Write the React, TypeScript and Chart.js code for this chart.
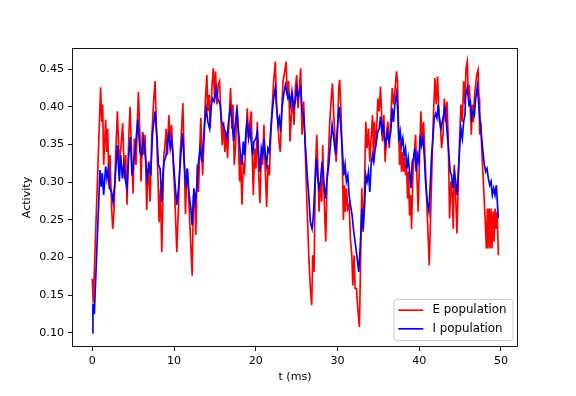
import React, { useEffect, useRef } from "react";
import { Chart, registerables } from "chart.js";

Chart.register(...registerables);

const eTime = [0, 0.12, 1.02, 1.15, 1.27, 1.39, 1.64, 1.76, 1.88, 2.05, 2.17, 2.37, 2.5, 2.66, 2.86, 3.07, 3.31, 3.52, 3.72, 3.93, 4.09, 4.25, 4.46, 4.62, 4.82, 4.99, 5.15, 5.35, 5.64, 5.84, 5.97, 6.13, 6.3, 6.46, 6.66, 6.87, 7.07, 7.27, 7.48, 7.68, 7.89, 8.05, 8.17, 8.34, 8.5, 8.75, 8.87, 9.04, 9.2, 9.36, 9.53, 9.69, 9.85, 10.02, 10.18, 10.34, 10.55, 10.75, 10.91, 11.08, 11.24, 11.4, 11.57, 11.73, 11.98, 12.22, 12.38, 12.55, 12.67, 12.83, 13.0, 13.12, 13.28, 13.49, 13.65, 13.81, 14.02, 14.14, 14.3, 14.43, 14.63, 14.8, 14.96, 15.08, 15.24, 15.41, 15.57, 15.73, 15.9, 16.06, 16.22, 16.39, 16.55, 16.72, 16.92, 17.08, 17.21, 17.37, 17.53, 17.7, 17.86, 18.02, 18.14, 18.31, 18.47, 18.63, 18.8, 18.96, 19.12, 19.29, 19.45, 19.57, 19.7, 19.86, 20.02, 20.19, 20.35, 20.51, 20.68, 20.84, 21.0, 21.17, 21.33, 21.49, 21.66, 21.82, 21.98, 22.19, 22.39, 22.56, 22.72, 22.84, 23.0, 23.17, 23.33, 23.54, 23.7, 23.86, 24.03, 24.19, 24.35, 24.52, 24.68, 24.84, 25.01, 25.17, 25.33, 25.5, 25.66, 25.86, 26.07, 26.27, 26.48, 26.68, 26.84, 26.97, 27.13, 27.29, 27.46, 27.58, 27.74, 27.91, 28.07, 28.19, 28.35, 28.56, 28.72, 28.89, 29.05, 29.21, 29.38, 29.54, 29.7, 29.83, 29.99, 30.15, 30.27, 30.44, 30.6, 30.72, 30.85, 30.97, 31.09, 31.26, 31.42, 31.58, 31.75, 31.87, 32.03, 32.15, 32.32, 32.48, 32.68, 32.85, 32.97, 33.13, 33.3, 33.46, 33.62, 33.79, 33.95, 34.11, 34.28, 34.4, 34.52, 34.65, 34.77, 34.93, 35.1, 35.26, 35.38, 35.5, 35.67, 35.83, 35.99, 36.16, 36.32, 36.48, 36.69, 36.85, 37.01, 37.22, 37.34, 37.46, 37.59, 37.71, 37.83, 37.95, 38.08, 38.2, 38.32, 38.44, 38.57, 38.69, 38.81, 38.93, 39.06, 39.22, 39.38, 39.55, 39.71, 39.87, 40.04, 40.2, 40.36, 40.53, 40.69, 40.85, 41.02, 41.22, 41.43, 41.59, 41.75, 41.92, 42.08, 42.24, 42.41, 42.57, 42.73, 42.9, 43.06, 43.22, 43.39, 43.55, 43.71, 43.88, 44.04, 44.16, 44.29, 44.45, 44.61, 44.78, 44.94, 45.1, 45.27, 45.43, 45.59, 45.72, 45.88, 46.0, 46.12, 46.25, 46.37, 46.49, 46.62, 46.74, 46.9, 47.02, 47.19, 47.31, 47.39, 47.51, 47.64, 47.76, 47.88, 48.0, 48.13, 48.21, 48.33, 48.41, 48.54, 48.66, 48.78, 48.9, 49.03, 49.15, 49.27, 49.39, 49.52, 49.68];

const eActivity = [0.172, 0.14, 0.426, 0.38, 0.403, 0.323, 0.383, 0.34, 0.371, 0.292, 0.336, 0.265, 0.238, 0.261, 0.336, 0.394, 0.323, 0.349, 0.378, 0.305, 0.336, 0.27, 0.358, 0.4, 0.336, 0.285, 0.358, 0.323, 0.42, 0.358, 0.301, 0.367, 0.336, 0.363, 0.263, 0.327, 0.274, 0.358, 0.403, 0.434, 0.358, 0.301, 0.247, 0.292, 0.207, 0.336, 0.345, 0.371, 0.336, 0.389, 0.358, 0.376, 0.336, 0.301, 0.256, 0.207, 0.27, 0.336, 0.367, 0.405, 0.336, 0.258, 0.318, 0.296, 0.234, 0.176, 0.283, 0.27, 0.23, 0.323, 0.287, 0.336, 0.385, 0.309, 0.349, 0.403, 0.442, 0.394, 0.416, 0.371, 0.425, 0.451, 0.411, 0.447, 0.403, 0.429, 0.434, 0.389, 0.349, 0.38, 0.34, 0.367, 0.332, 0.38, 0.425, 0.371, 0.403, 0.323, 0.349, 0.403, 0.363, 0.301, 0.336, 0.27, 0.323, 0.314, 0.358, 0.398, 0.358, 0.38, 0.394, 0.336, 0.283, 0.345, 0.318, 0.38, 0.314, 0.272, 0.336, 0.323, 0.376, 0.314, 0.267, 0.323, 0.309, 0.358, 0.394, 0.434, 0.46, 0.398, 0.38, 0.354, 0.34, 0.394, 0.434, 0.447, 0.46, 0.416, 0.434, 0.354, 0.389, 0.411, 0.376, 0.425, 0.442, 0.398, 0.425, 0.451, 0.363, 0.407, 0.336, 0.27, 0.203, 0.159, 0.137, 0.203, 0.181, 0.314, 0.363, 0.327, 0.261, 0.301, 0.274, 0.349, 0.283, 0.221, 0.301, 0.336, 0.38, 0.407, 0.431, 0.389, 0.358, 0.327, 0.363, 0.425, 0.436, 0.389, 0.323, 0.25, 0.296, 0.261, 0.292, 0.265, 0.27, 0.225, 0.203, 0.163, 0.203, 0.159, 0.159, 0.132, 0.108, 0.212, 0.292, 0.234, 0.292, 0.38, 0.345, 0.371, 0.327, 0.358, 0.389, 0.327, 0.38, 0.345, 0.363, 0.411, 0.394, 0.427, 0.394, 0.354, 0.389, 0.327, 0.363, 0.38, 0.345, 0.376, 0.425, 0.403, 0.42, 0.447, 0.434, 0.38, 0.323, 0.354, 0.314, 0.34, 0.314, 0.332, 0.309, 0.323, 0.278, 0.314, 0.256, 0.283, 0.238, 0.309, 0.336, 0.363, 0.309, 0.261, 0.336, 0.394, 0.354, 0.38, 0.336, 0.292, 0.247, 0.19, 0.27, 0.336, 0.394, 0.438, 0.403, 0.44, 0.389, 0.38, 0.345, 0.363, 0.411, 0.38, 0.407, 0.358, 0.252, 0.301, 0.283, 0.238, 0.323, 0.283, 0.232, 0.301, 0.358, 0.403, 0.38, 0.434, 0.403, 0.451, 0.46, 0.416, 0.429, 0.398, 0.363, 0.403, 0.38, 0.411, 0.429, 0.442, 0.449, 0.411, 0.363, 0.38, 0.345, 0.318, 0.292, 0.265, 0.234, 0.212, 0.265, 0.212, 0.265, 0.212, 0.265, 0.212, 0.261, 0.221, 0.265, 0.238, 0.261, 0.203];

const iTime = [0, 0.08, 0.25, 0.94, 1.11, 1.23, 1.39, 1.64, 1.8, 1.96, 2.13, 2.37, 2.54, 2.78, 3.07, 3.31, 3.48, 3.68, 3.84, 4.05, 4.25, 4.46, 4.66, 4.86, 5.07, 5.23, 5.56, 5.84, 6.05, 6.25, 6.46, 6.7, 6.95, 7.15, 7.36, 7.68, 7.93, 8.09, 8.3, 8.5, 8.66, 8.79, 9.04, 9.2, 9.36, 9.53, 9.69, 9.85, 10.1, 10.34, 10.55, 10.83, 11.04, 11.24, 11.45, 11.65, 11.81, 12.06, 12.22, 12.43, 12.59, 12.79, 12.96, 13.2, 13.41, 13.61, 13.77, 13.94, 14.14, 14.35, 14.51, 14.71, 14.92, 15.16, 15.33, 15.49, 15.65, 15.82, 16.06, 16.27, 16.47, 16.67, 16.88, 17.08, 17.29, 17.49, 17.7, 17.9, 18.1, 18.31, 18.47, 18.63, 18.8, 18.96, 19.12, 19.29, 19.45, 19.61, 19.78, 20.02, 20.19, 20.35, 20.51, 20.68, 20.84, 21.0, 21.17, 21.33, 21.49, 21.66, 21.82, 21.98, 22.19, 22.39, 22.56, 22.72, 22.88, 23.05, 23.21, 23.41, 23.62, 23.78, 23.94, 24.11, 24.27, 24.43, 24.64, 24.84, 25.01, 25.17, 25.33, 25.5, 25.66, 25.86, 26.07, 26.27, 26.48, 26.68, 26.89, 27.05, 27.21, 27.42, 27.58, 27.74, 27.91, 28.11, 28.31, 28.52, 28.72, 28.93, 29.13, 29.34, 29.54, 29.78, 29.95, 30.19, 30.36, 30.56, 30.77, 30.93, 31.09, 31.26, 31.42, 31.58, 31.79, 31.95, 32.15, 32.36, 32.6, 32.81, 32.97, 33.13, 33.3, 33.46, 33.62, 33.79, 33.95, 34.11, 34.28, 34.44, 34.61, 34.77, 34.93, 35.1, 35.26, 35.42, 35.59, 35.75, 35.91, 36.08, 36.28, 36.52, 36.69, 36.85, 37.01, 37.22, 37.38, 37.5, 37.67, 37.83, 37.99, 38.16, 38.32, 38.48, 38.65, 38.81, 38.97, 39.14, 39.3, 39.46, 39.63, 39.79, 39.95, 40.12, 40.28, 40.45, 40.61, 40.77, 40.98, 41.18, 41.34, 41.51, 41.67, 41.83, 42.0, 42.16, 42.32, 42.49, 42.65, 42.81, 42.98, 43.14, 43.3, 43.47, 43.63, 43.79, 43.96, 44.12, 44.29, 44.45, 44.61, 44.78, 44.94, 45.1, 45.27, 45.43, 45.59, 45.68, 45.88, 46.08, 46.25, 46.41, 46.57, 46.74, 46.9, 47.11, 47.31, 47.47, 47.64, 47.8, 47.96, 48.13, 48.29, 48.45, 48.62, 48.78, 48.94, 49.11, 49.27, 49.43, 49.6, 49.68];

const iActivity = [0.1, 0.139, 0.125, 0.316, 0.294, 0.312, 0.283, 0.321, 0.305, 0.318, 0.292, 0.287, 0.274, 0.301, 0.349, 0.301, 0.336, 0.305, 0.323, 0.303, 0.292, 0.336, 0.36, 0.309, 0.327, 0.34, 0.383, 0.34, 0.336, 0.358, 0.34, 0.305, 0.323, 0.309, 0.363, 0.394, 0.358, 0.323, 0.318, 0.274, 0.314, 0.327, 0.336, 0.354, 0.363, 0.345, 0.358, 0.34, 0.301, 0.27, 0.292, 0.336, 0.365, 0.327, 0.292, 0.318, 0.287, 0.265, 0.243, 0.292, 0.274, 0.292, 0.323, 0.345, 0.327, 0.358, 0.38, 0.398, 0.38, 0.371, 0.398, 0.411, 0.407, 0.425, 0.411, 0.407, 0.403, 0.38, 0.374, 0.367, 0.358, 0.38, 0.398, 0.385, 0.354, 0.376, 0.398, 0.367, 0.34, 0.323, 0.354, 0.336, 0.367, 0.38, 0.358, 0.371, 0.354, 0.336, 0.354, 0.358, 0.367, 0.336, 0.314, 0.345, 0.336, 0.358, 0.336, 0.323, 0.345, 0.34, 0.367, 0.389, 0.411, 0.425, 0.398, 0.376, 0.385, 0.367, 0.398, 0.416, 0.429, 0.42, 0.411, 0.416, 0.403, 0.42, 0.398, 0.407, 0.425, 0.411, 0.42, 0.425, 0.394, 0.389, 0.349, 0.314, 0.283, 0.247, 0.238, 0.256, 0.292, 0.332, 0.305, 0.292, 0.301, 0.327, 0.301, 0.278, 0.305, 0.323, 0.349, 0.376, 0.358, 0.336, 0.367, 0.4, 0.38, 0.349, 0.309, 0.323, 0.301, 0.309, 0.283, 0.27, 0.256, 0.238, 0.221, 0.203, 0.181, 0.221, 0.265, 0.238, 0.265, 0.309, 0.301, 0.314, 0.287, 0.323, 0.336, 0.327, 0.345, 0.354, 0.367, 0.371, 0.387, 0.367, 0.376, 0.358, 0.349, 0.367, 0.354, 0.367, 0.398, 0.38, 0.403, 0.418, 0.394, 0.354, 0.367, 0.349, 0.358, 0.336, 0.345, 0.318, 0.332, 0.314, 0.292, 0.327, 0.332, 0.345, 0.314, 0.336, 0.327, 0.363, 0.349, 0.358, 0.336, 0.301, 0.274, 0.261, 0.296, 0.336, 0.358, 0.385, 0.391, 0.385, 0.403, 0.38, 0.371, 0.38, 0.389, 0.398, 0.38, 0.358, 0.336, 0.314, 0.309, 0.292, 0.314, 0.301, 0.283, 0.314, 0.345, 0.371, 0.358, 0.38, 0.389, 0.416, 0.425, 0.403, 0.407, 0.385, 0.394, 0.389, 0.411, 0.427, 0.398, 0.38, 0.358, 0.34, 0.323, 0.314, 0.318, 0.305, 0.296, 0.301, 0.283, 0.292, 0.283, 0.296, 0.265, 0.252];

const xTicks = [0, 10, 20, 30, 40, 50];
const yTicks = [0.1, 0.15, 0.2, 0.25, 0.3, 0.35, 0.4, 0.45];
const seriesLabels = ["E population", "I population"];
const seriesColors = ["#ff0000", "#0000ff"];
const xTitle = "t (ms)";
const yTitle = "Activity";

const FONT_FAMILY = "'DejaVu Sans', sans-serif";
const FONT_SIZE = 11.1;
const LEGEND_FONT_SIZE = 11.8;

export default function App() {
  const canvasRef = useRef<HTMLCanvasElement | null>(null);

  useEffect(() => {
    const canvas = canvasRef.current;
    if (!canvas) return;

    const framePlugin = {
      id: "frame",
      afterDraw(chart: any) {
        const { ctx, chartArea: a } = chart;
        ctx.save();
        ctx.strokeStyle = "#000";
        ctx.lineWidth = 0.9;
        ctx.strokeRect(a.left + 0.5, a.top + 0.5, a.right - a.left - 1, a.bottom - a.top - 1);

        // legend (matplotlib style, lower right)
        const w = 119;
        const h = 41;
        const right = a.right - 5;
        const bottom = a.bottom - 6.5;
        const left = right - w;
        const top = bottom - h;
        const r = 3;
        ctx.beginPath();
        ctx.moveTo(left + r, top);
        ctx.lineTo(right - r, top);
        ctx.arcTo(right, top, right, top + r, r);
        ctx.lineTo(right, bottom - r);
        ctx.arcTo(right, bottom, right - r, bottom, r);
        ctx.lineTo(left + r, bottom);
        ctx.arcTo(left, bottom, left, bottom - r, r);
        ctx.lineTo(left, top + r);
        ctx.arcTo(left, top, left + r, top, r);
        ctx.closePath();
        ctx.fillStyle = "rgba(255,255,255,0.8)";
        ctx.fill();
        ctx.strokeStyle = "#cccccc";
        ctx.lineWidth = 1;
        ctx.stroke();

        const rows = [top + 10.7, top + 29.3];
        ctx.font = `${LEGEND_FONT_SIZE}px ${FONT_FAMILY}`;
        ctx.textBaseline = "middle";
        ctx.textAlign = "left";
        seriesLabels.forEach((lab, i) => {
          ctx.strokeStyle = seriesColors[i];
          ctx.lineWidth = 1.67;
          ctx.beginPath();
          ctx.moveTo(left + 4.3, rows[i]);
          ctx.lineTo(left + 29.3, rows[i]);
          ctx.stroke();
          ctx.fillStyle = "#000";
          ctx.fillText(lab, left + 38.5, rows[i]);
        });
        ctx.restore();
      },
    };

    const eData = eTime.map((t, i) => ({ x: t, y: eActivity[i] }));
    const iData = iTime.map((t, i) => ({ x: t, y: iActivity[i] }));

    const chart = new Chart(canvas, {
      type: "line",
      data: {
        datasets: [
          {
            label: seriesLabels[0],
            data: eData,
            borderColor: seriesColors[0],
            backgroundColor: seriesColors[0],
            borderWidth: 1.67,
            pointRadius: 0,
            tension: 0,
            fill: false,
            order: 1,
          },
          {
            label: seriesLabels[1],
            data: iData,
            borderColor: seriesColors[1],
            backgroundColor: seriesColors[1],
            borderWidth: 1.67,
            pointRadius: 0,
            tension: 0,
            fill: false,
            order: 0,
          },
        ],
      },
      options: {
        responsive: false,
        animation: false,
        events: [],
        layout: { padding: { left: 0, top: 48, right: 58, bottom: 0 } },
        plugins: {
          legend: { display: false },
          tooltip: { enabled: false },
        },
        scales: {
          x: {
            type: "linear",
            min: -2.48,
            max: 52.08,
            afterFit: (s: any) => {
              s.height = 49;
            },
            afterBuildTicks: (s: any) => {
              s.ticks = xTicks.map((v) => ({ value: v }));
            },
            grid: {
              drawOnChartArea: false,
              drawTicks: true,
              tickLength: 4,
              color: "#000",
              lineWidth: 0.9,
            },
            border: { display: false },
            ticks: {
              color: "#000",
              padding: 3,
              maxRotation: 0,
              font: { family: FONT_FAMILY, size: FONT_SIZE },
              callback: (v: any) => String(v),
            },
            title: {
              display: true,
              text: xTitle,
              color: "#000",
              font: { family: FONT_FAMILY, size: FONT_SIZE },
              padding: { top: 0, bottom: 12 },
            },
          },
          y: {
            type: "linear",
            min: 0.0814,
            max: 0.478,
            afterFit: (s: any) => {
              s.width = 72;
            },
            afterBuildTicks: (s: any) => {
              s.ticks = yTicks.map((v) => ({ value: v }));
            },
            grid: {
              drawOnChartArea: false,
              drawTicks: true,
              tickLength: 4,
              color: "#000",
              lineWidth: 0.9,
            },
            border: { display: false },
            ticks: {
              color: "#000",
              padding: 4,
              font: { family: FONT_FAMILY, size: FONT_SIZE },
              callback: (v: any) => Number(v).toFixed(2),
            },
            title: {
              display: true,
              text: yTitle,
              color: "#000",
              font: { family: FONT_FAMILY, size: FONT_SIZE },
              padding: { top: 20, bottom: 0 },
            },
          },
        },
      },
      plugins: [framePlugin],
    });

    return () => {
      chart.destroy();
    };
  }, []);

  return (
    <div style={{ position: "fixed", left: 0, top: 0, width: 576, height: 396, background: "#fff" }}>
      <canvas ref={canvasRef} width={576} height={396} style={{ width: 576, height: 396, display: "block" }} />
    </div>
  );
}
